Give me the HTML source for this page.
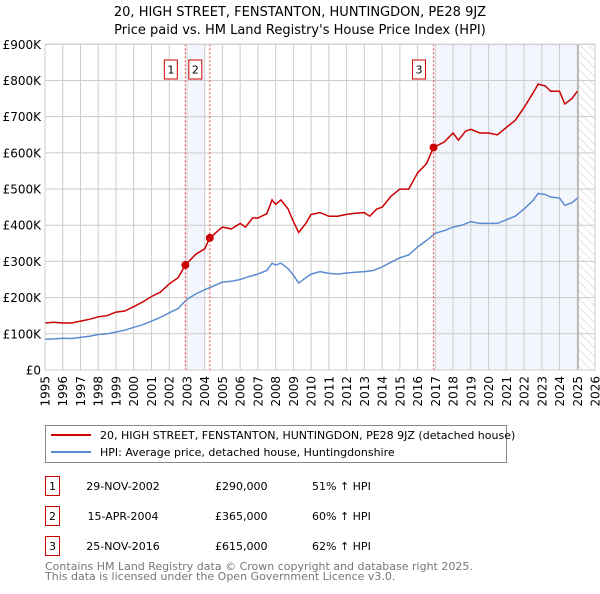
<!DOCTYPE html>
<html><head><meta charset="utf-8"><style>
body{margin:0;background:#fff;width:600px;height:590px;overflow:hidden;font-family:"DejaVu Sans","Liberation Sans",sans-serif}
svg text{font-family:"DejaVu Sans","Liberation Sans",sans-serif}
</style></head><body>
<svg id="chart" width="600" height="590" xmlns="http://www.w3.org/2000/svg">
<defs><pattern id="hatch" width="6" height="6" patternUnits="userSpaceOnUse" patternTransform="rotate(-45)"><line x1="0" y1="0" x2="0" y2="6" stroke="#ccc" stroke-width="1"/></pattern></defs>
<text x="300" y="16" text-anchor="middle" font-size="13">20, HIGH STREET, FENSTANTON, HUNTINGDON, PE28 9JZ</text>
<text x="300" y="34" text-anchor="middle" font-size="13">Price paid vs. HM Land Registry's House Price Index (HPI)</text>
<g id="plot"></g>
<rect x="45.5" y="425.5" width="461" height="37" fill="#fff" stroke="#888"/>
<line x1="51" y1="435" x2="91" y2="435" stroke="#cc0000" stroke-width="2"/>
<text x="100" y="439" font-size="11">20, HIGH STREET, FENSTANTON, HUNTINGDON, PE28 9JZ (detached house)</text>
<line x1="51" y1="452" x2="91" y2="452" stroke="#5b8bd0" stroke-width="2"/>
<text x="100" y="456" font-size="11">HPI: Average price, detached house, Huntingdonshire</text>
<g id="table" font-size="11"></g>
<text x="45" y="570" font-size="11" fill="#777">Contains HM Land Registry data © Crown copyright and database right 2025.</text>
<text x="45" y="580" font-size="11" fill="#777">This data is licensed under the Open Government Licence v3.0.</text>
</svg>
<script>
const hpiYears=[1995,1995.5,1996,1996.5,1997,1997.5,1998,1998.5,1999,1999.5,2000,2000.5,2001,2001.5,2002,2002.5,2003,2003.5,2004,2004.5,2005,2005.5,2006,2006.5,2007,2007.5,2007.8,2008,2008.3,2008.7,2009,2009.3,2009.7,2010,2010.5,2011,2011.5,2012,2012.5,2013,2013.5,2014,2014.5,2015,2015.5,2016,2016.5,2017,2017.5,2018,2018.5,2019,2019.5,2020,2020.5,2021,2021.5,2022,2022.5,2022.8,2023.2,2023.5,2024,2024.3,2024.7,2025];
const hpiValues=[85,86,88,87,90,93,98,100,105,110,118,125,135,145,158,170,195,210,222,232,243,245,250,258,265,275,295,290,295,280,262,240,255,265,272,267,265,268,270,272,275,285,298,310,318,340,358,378,385,395,400,410,405,405,405,415,425,445,468,488,485,478,475,455,462,475];
const priceYears=[1995,1995.5,1996,1996.5,1997,1997.5,1998,1998.5,1999,1999.5,2000,2000.5,2001,2001.5,2002,2002.5,2002.91,2003.5,2004,2004.29,2005,2005.5,2006,2006.3,2006.7,2007,2007.5,2007.8,2008,2008.3,2008.7,2009,2009.3,2009.7,2010,2010.5,2011,2011.5,2012,2012.5,2013,2013.3,2013.7,2014,2014.5,2015,2015.5,2016,2016.5,2016.9,2017.5,2018,2018.3,2018.7,2019,2019.5,2020,2020.5,2021,2021.5,2022,2022.5,2022.8,2023.2,2023.5,2024,2024.3,2024.7,2025];
const priceValues=[130,132,130,130,135,140,147,150,160,163,175,188,203,215,238,255,290,320,335,365,395,390,405,395,420,420,432,470,458,470,445,410,380,405,430,435,425,425,430,433,435,425,445,450,480,500,500,545,570,615,630,655,635,660,665,655,655,650,670,690,725,765,790,785,770,770,735,750,770];
const saleLabels=["1","2","3"];
const saleYears=[2002.91,2004.29,2016.9];
const saleValues=[290,365,615];
const saleDates=["29-NOV-2002","15-APR-2004","25-NOV-2016"];
const salePrices=["£290,000","£365,000","£615,000"];
const saleDiffs=["51% ↑ HPI","60% ↑ HPI","62% ↑ HPI"];
const yTicks=[0,100,200,300,400,500,600,700,800,900];
const yTickLabels=["£0","£100K","£200K","£300K","£400K","£500K","£600K","£700K","£800K","£900K"];
const xTicks=[1995,1996,1997,1998,1999,2000,2001,2002,2003,2004,2005,2006,2007,2008,2009,2010,2011,2012,2013,2014,2015,2016,2017,2018,2019,2020,2021,2022,2023,2024,2025,2026];

const NS="http://www.w3.org/2000/svg";
const L=45,R=595,T=44.3,B=370;
const X=y=>L+(y-1995)/31*(R-L);
const Y=v=>B-v/900*(B-T);
function mk(tag,attrs,parent){const e=document.createElementNS(NS,tag);for(const k in attrs)e.setAttribute(k,attrs[k]);parent.appendChild(e);return e;}
const g=document.getElementById('plot');
let e;
e=mk('rect',{x:X(2003),y:T,width:X(2004)-X(2003),height:B-T,fill:'#eef3fc',opacity:0.7},g);


e=mk('rect',{x:X(2017),y:T,width:X(2025.05)-X(2017),height:B-T,fill:'#eef3fc',opacity:0.7},g);


e=mk('rect',{x:X(2025.05),y:T,width:R-X(2025.05),height:B-T,fill:'url(#hatch)'},g);


yTicks.forEach((t,i)=>{
  e=mk('line',{x1:L,x2:R,y1:Y(t),y2:Y(t),stroke:'#ccc','stroke-width':1},g);
  
  
  e=mk('text',{x:L-4,y:Y(t)+4.5,'text-anchor':'end','font-size':12},g);
  e.textContent=yTickLabels[i];
  
  
});
xTicks.forEach(t=>{
  e=mk('line',{x1:X(t),x2:X(t),y1:T,y2:B,stroke:'#ccc','stroke-width':1},g);
  
  
  const tx=X(t)+4.5, ty=376;
  e=mk('text',{x:tx,y:ty,'text-anchor':'end','font-size':12,transform:`rotate(-90 ${tx} ${ty})`},g);
  e.textContent=t;
  
  
});
e=mk('line',{x1:X(2025.05),x2:X(2025.05),y1:T,y2:B,stroke:'#999','stroke-width':1},g);


const pts=(xs,vs)=>xs.map((x,i)=>X(x).toFixed(1)+','+Y(vs[i]).toFixed(1)).join(' ');
e=mk('polyline',{points:pts(hpiYears,hpiValues),fill:'none',stroke:'#5b8bd0','stroke-width':1.5},g);


e=mk('polyline',{points:pts(priceYears,priceValues),fill:'none',stroke:'#cc0000','stroke-width':1.5},g);


const tb=document.getElementById('table');
saleYears.forEach((sy,i)=>{
  e=mk('line',{x1:X(sy),x2:X(sy),y1:T,y2:B,stroke:'#ee4444','stroke-width':1,'stroke-dasharray':'2,2'},g);
  
  
  e=mk('circle',{cx:X(sy),cy:Y(saleValues[i]),r:4,fill:'#cc0000'},g);
  
  
  e=mk('rect',{x:X(sy)-21,y:60,width:13,height:19,fill:'#fff',stroke:'#cc0000'},g);
  
  
  e=mk('text',{x:X(sy)-14.5,y:73.5,'text-anchor':'middle','font-size':11},g);
  e.textContent=saleLabels[i];
  
  
  const ry=476+i*30;
  e=mk('rect',{x:45.5,y:ry+0.5,width:14,height:19,fill:'#fff',stroke:'#cc0000'},tb);
  
  
  e=mk('text',{x:52.5,y:ry+14,'text-anchor':'middle'},tb);
  e.textContent=saleLabels[i];
  
  
  e=mk('text',{x:123,y:ry+14,'text-anchor':'middle'},tb);
  e.textContent=saleDates[i];
  
  
  e=mk('text',{x:215,y:ry+14},tb);
  e.textContent=salePrices[i];
  
  
  e=mk('text',{x:312,y:ry+14},tb);
  e.textContent=saleDiffs[i];
  
  
});
e=mk('rect',{x:L,y:T,width:R-L,height:B-T,fill:'none',stroke:'#ccc'},g);
</script>
</body></html>
